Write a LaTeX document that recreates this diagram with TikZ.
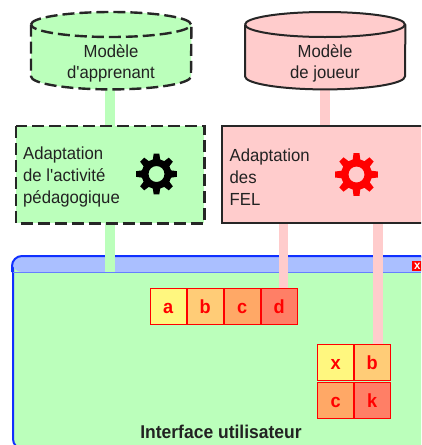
\documentclass[tikz,border=0pt]{standalone}
\usepackage{fontspec}
\setmainfont[FakeStretch=0.955,Ligatures=TeXOff]{Liberation Sans}
\usetikzlibrary{calc}
\definecolor{gr}{HTML}{BBFFBB}
\definecolor{pk}{HTML}{FFCCCC}
\definecolor{bl}{HTML}{1030FF}
\definecolor{tb}{HTML}{AABFFF}
\definecolor{tbl}{HTML}{6680FF}
\definecolor{sqa}{HTML}{FFF77F}
\definecolor{sqb}{HTML}{FFCC77}
\definecolor{sqc}{HTML}{FFA866}
\definecolor{sqd}{HTML}{FF7F66}
\definecolor{ink}{HTML}{222222}
\tikzset{
 lab/.style={font=\fontsize{17.5}{21.7}\selectfont,text=ink,align=left,inner sep=0pt},
 labc/.style={lab,align=center},
 dsh/.style={line width=2.4pt,dash pattern=on 12pt off 5pt},
 sld/.style={line width=2pt,draw=black!85},
 cylbox/.style={minimum width=160pt,minimum height=77pt,inner sep=0pt,anchor=north west},
 adbox/.style={inner sep=0pt,anchor=north west,minimum height=97pt},
 gband/.style={draw=gr,line width=9.5pt},
 pband/.style={draw=pk,line width=9.5pt},
 sq/.style={draw=red,line width=1.2pt,text=red,minimum width=36pt,minimum height=36pt,inner sep=0pt,anchor=north west,text height=13.5pt,text depth=0pt,font=\fontsize{19}{19}\selectfont\bfseries},
}
\newcommand{\cylshape}[3]{%
 \fill[#3] ($(#1.north west)+(0,12.5)$) -- ($(#1.south west)+(0,-13)$)
   arc[start angle=180,end angle=360,x radius=80pt,y radius=13pt]
   -- ($(#1.north east)+(0,12.5)$)
   arc[start angle=0,end angle=180,x radius=80pt,y radius=12.5pt] -- cycle;
 \draw[#2] ($(#1.north west)+(0,12.5)$) -- ($(#1.south west)+(0,-13)$)
   arc[start angle=180,end angle=360,x radius=80pt,y radius=13pt]
   -- ($(#1.north east)+(0,12.5)$);
 \draw[#2] ($(#1.north west)+(0,12.5)$) arc[start angle=180,end angle=-180,x radius=80pt,y radius=12.5pt];
}
\newcommand{\gearshape}[5]{% x y outer inner colour
 \begin{scope}[shift={(#1,#2)}]
 \fill[#5,even odd rule,line join=round]
   (-8:#3)
   \foreach \k in {0,45,...,315}{
     -- ({\k-8}:#3) -- ({\k+8}:#3) -- ({\k+14}:#4) -- ({\k+31}:#4)
   } -- cycle
   (0,0) circle[radius=8pt];
 \end{scope}
}
\begin{document}
\begin{tikzpicture}[x=1pt,y=-1pt]
\useasboundingbox (0,0) rectangle (421,445);
\clip (0,0) rectangle (421,445);
% window
\node[draw=bl,fill=gr,line width=2pt,rounded corners=10pt,anchor=north west,minimum width=430pt,minimum height=192pt,inner sep=0pt] (win) at (12,256) {};
\fill[tb,rounded corners=10pt] (12,272) -- (12,256) -- (440,256) -- (440,272) -- cycle;
\draw[bl,line width=2pt,rounded corners=10pt] (12,272) -- (12,256) -- (440,256);
\draw[tbl,line width=1pt] (13,272) -- (421,272);
\node[fill=red,text=white,font=\fontsize{12}{12}\selectfont\bfseries,minimum width=10pt,minimum height=9.5pt,inner sep=0pt,anchor=north west] (cls) at (412,261) {x};
% squares and frames as nodes
\node[cylbox] (cylL) at (31,12) {};
\node[cylbox] (cylR) at (245,12) {};
\node[adbox,minimum width=188pt,fill=gr] (adL) at (16,126) {};
\node[adbox,minimum width=230pt,fill=pk] (adR) at (222,126) {};
\node[sq,fill=sqa] (a) at (149.5,288) {a};
\node[sq,fill=sqb] (b) at (186.5,288) {b};
\node[sq,fill=sqc] (c) at (223.5,288) {c};
\node[sq,fill=sqd] (d) at (260.5,288) {d};
\node[sq,fill=sqa] (x2) at (317,344) {x};
\node[sq,fill=sqb] (b2) at (353.5,344) {b};
\node[sq,fill=sqc] (c2) at (317,382) {c};
\node[sq,fill=sqd] (k2) at (353.5,382) {k};
% connectors
\coordinate (gx) at (110,272);
\coordinate (mx) at (325,0);
\coordinate (p1) at (283.5,0);
\coordinate (p2) at (378,0);
\draw[gband] (cylL.south -| gx) -- (adL.north -| gx);
\draw[gband] (adL.south -| gx) -- (gx);
\draw[pband] (cylR.south -| mx) -- (adR.north -| mx);
\draw[pband] (adR.south -| p1) -- (d.north -| p1);
\draw[pband] (adR.south -| p2) -- (b2.north -| p2);
% cylinders
\cylshape{cylL}{dsh,draw=black!85}{gr}
\cylshape{cylR}{sld}{pk}
% frames
\draw[dsh,draw=black!85] (adL.north west) rectangle (adL.south east);
\draw[sld] (adR.north west) rectangle (adR.south east);
% gears
\gearshape{156.5}{174}{20.5pt}{15pt}{black}
\gearshape{356.5}{174.5}{21.5pt}{15.5pt}{red}
% text
\node[labc] (t1) at (111,63.5) {Modèle\\d'apprenant};
\node[labc] (t2) at (325,63.5) {Modèle\\de joueur};
\node[lab,anchor=west] (t3) at (23,177) {Adaptation\\de l'activité\\pédagogique};
\node[lab,anchor=west] (t4) at (229.5,177) {Adaptation\\des\\FEL};
\node[font=\fontsize{18.5}{20}\selectfont\bfseries,text=ink,inner sep=0pt] (t5) at (221,432) {\scalebox{.99}[1]{Interface utilisateur}};
\end{tikzpicture}
\end{document}
